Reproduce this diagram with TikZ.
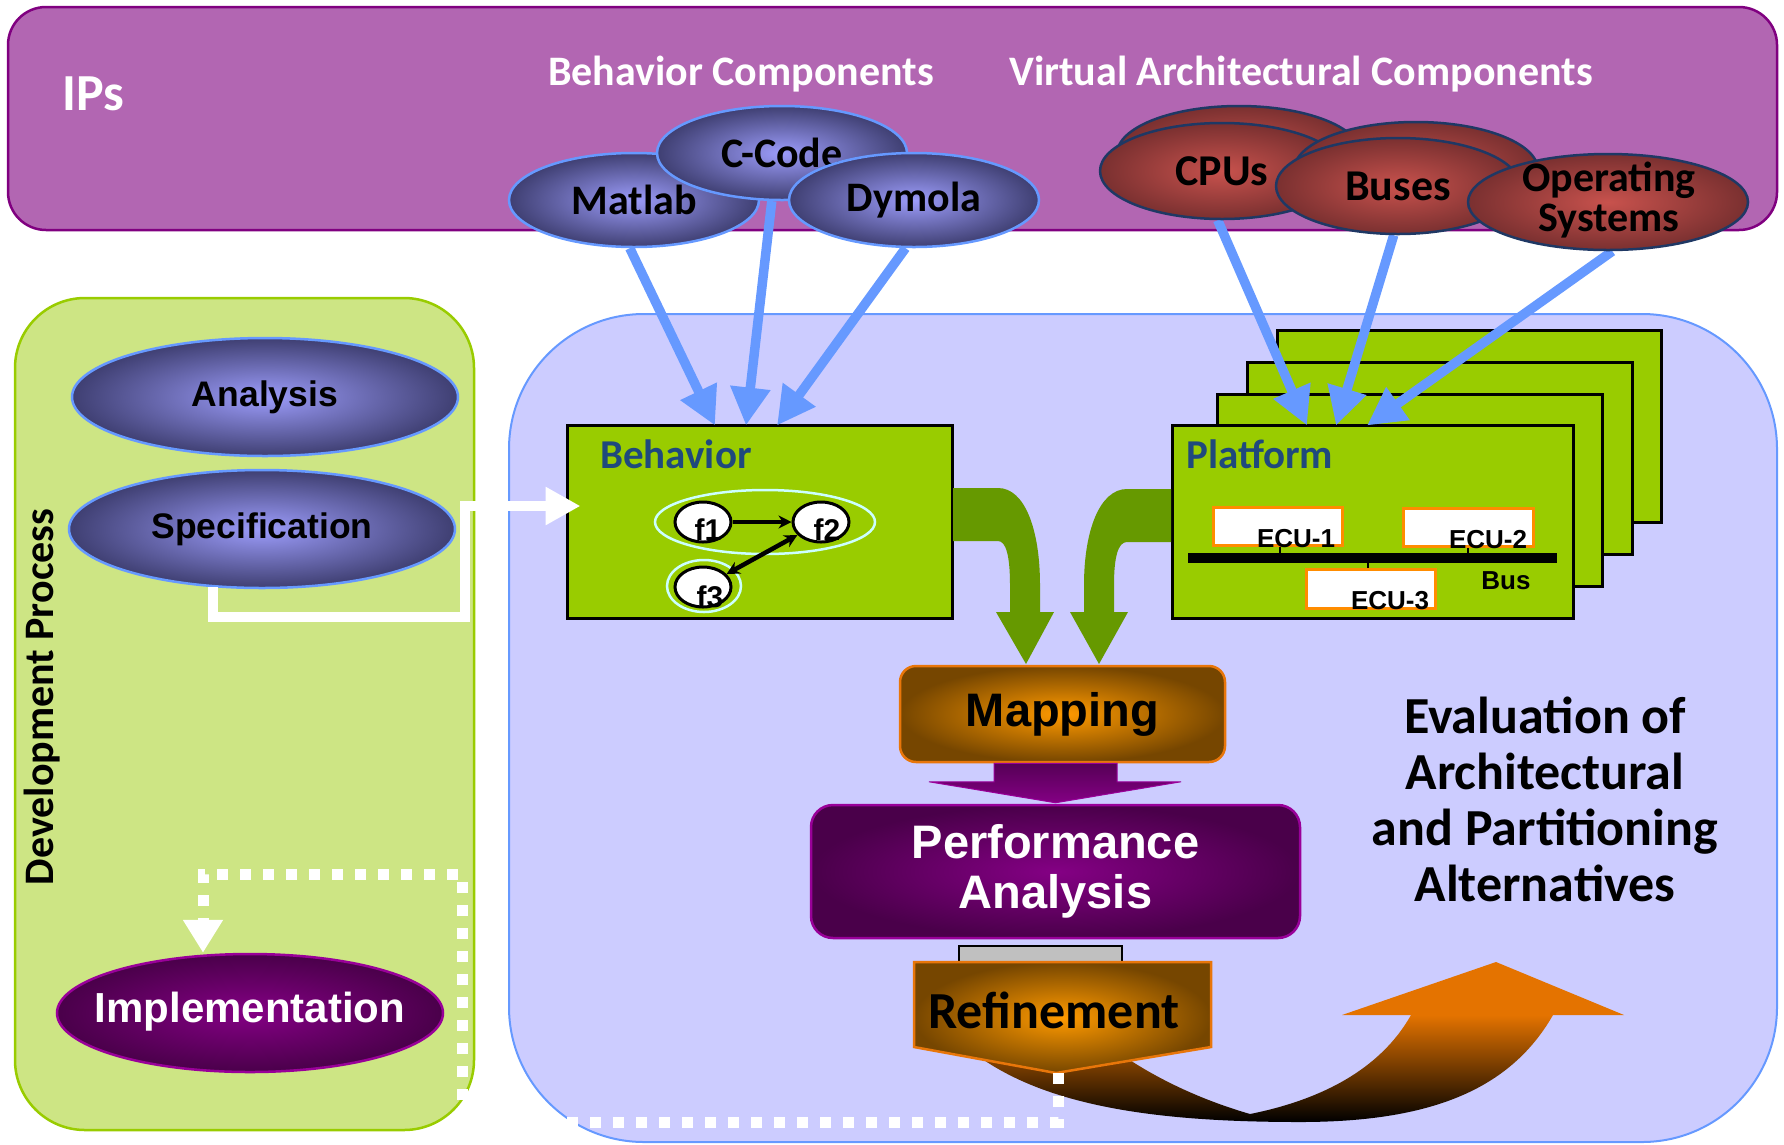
\documentclass[tikz,border=0pt]{standalone}
\usepackage{fontspec}
\setmainfont{Carlito}
\newfontfamily\arialfont{Liberation Sans}
\usetikzlibrary{shapes.geometric,arrows.meta,calc}
\pgfdeclarelayer{panels}
\pgfdeclarelayer{links}
\pgfsetlayers{panels,links,main}
\newcommand\setsz[2]{\fontsize{#1}{#2}\selectfont}

\definecolor{ipfill}{HTML}{B266B2}
\definecolor{ipline}{HTML}{800080}
\definecolor{lav}{HTML}{CCCCFF}
\definecolor{lavline}{HTML}{6699FF}
\definecolor{devfill}{HTML}{CDE584}
\definecolor{devline}{HTML}{99CC00}
\definecolor{boxgreen}{HTML}{99CC00}
\definecolor{darkgreen}{HTML}{669900}
\definecolor{skyblue}{HTML}{6699FF}
\definecolor{titleblue}{HTML}{1F497D}
\definecolor{bluein}{HTML}{9C9CFA}
\definecolor{blueout}{HTML}{3F3F72}
\definecolor{redin}{HTML}{C8524D}
\definecolor{redout}{HTML}{7A3030}
\definecolor{redline}{HTML}{1F3864}
\definecolor{purin}{HTML}{840084}
\definecolor{purout}{HTML}{4A004A}
\definecolor{purtop}{HTML}{560056}
\definecolor{purline}{HTML}{990099}
\definecolor{orin}{HTML}{FF9A00}
\definecolor{orout}{HTML}{764600}
\definecolor{orline}{HTML}{E8760A}
\definecolor{arcorange}{HTML}{E47300}
\definecolor{eculine}{HTML}{FF8C00}
\definecolor{groupline}{HTML}{CCFFFF}
\definecolor{bargray}{HTML}{C0C0C0}

\begin{document}
\begin{tikzpicture}[x=1pt,y=-1pt,
  platbox/.style={rectangle, fill=boxgreen, draw=black, line width=3pt, inner sep=0pt},
  bluecomp/.style={ellipse, shade, inner color=bluein, outer color=blueout, draw=skyblue,
    line width=2.5pt, minimum width=250pt, minimum height=94pt, inner sep=0pt,
    font=\bfseries\setsz{42}{44}},
  redcomp/.style={ellipse, shade, inner color=redin, outer color=redout, draw=redline,
    line width=2.5pt, minimum width=244pt, minimum height=96pt, inner sep=0pt,
    font=\bfseries\setsz{44}{40}, align=center},
  stage/.style={ellipse, shade, line width=2.5pt, minimum width=386pt, minimum height=118pt,
    inner sep=0pt, font=\arialfont\bfseries\setsz{35.5}{38}},
  bluestage/.style={stage, inner color=bluein, outer color=blueout, draw=skyblue},
  purplestage/.style={stage, inner color=purin, outer color=purout, draw=purline},
  skylink/.style={draw=skyblue, line width=9.5pt, -{Triangle[length=38pt,width=38pt]}},
  whitelink/.style={draw=white, line width=10pt, -{Triangle[length=35pt,width=36pt]}},
  dotlink/.style={draw=white, line width=11pt, dash pattern=on 11pt off 12pt,
    -{Triangle[length=33pt,width=38pt]}},
  fnode/.style={ellipse, draw=black, fill=white, line width=3pt, minimum width=56pt,
    minimum height=40pt, inner sep=0pt},
  flabel/.style={font=\arialfont\bfseries\setsz{30}{32}, anchor=base, inner sep=0pt},
  grouping/.style={ellipse, draw=groupline, line width=2.5pt, inner sep=0pt},
  ecubox/.style={rectangle, fill=white, draw=eculine, line width=3pt, inner sep=0pt},
  eculabel/.style={font=\arialfont\bfseries\setsz{26}{28}, anchor=base, inner sep=0pt},
  boxtitle/.style={font=\bfseries\setsz{41}{44}, text=titleblue, anchor=base west, inner sep=0pt},
  headline/.style={font=\bfseries\setsz{42}{44}, text=white, anchor=base, inner sep=0pt}]

\useasboundingbox (0,0) rectangle (1784,1144);

% ---------- panels and block frames ----------
\begin{pgfonlayer}{panels}
  \draw[ipline, fill=ipfill, line width=2.5pt, rounded corners=38pt] (8,7) rectangle (1777,230);
  \draw[lavline, fill=lav, line width=2pt, rounded corners=135pt] (509,314) rectangle (1777,1142);
  \draw[devline, fill=devfill, line width=2.5pt, rounded corners=70pt] (15,298) rectangle (474,1130);

  \node[platbox, minimum width=384pt, minimum height=192pt] (plat3) at (1469,426) {};
  \node[platbox, minimum width=385pt, minimum height=192pt] (plat2) at (1439.5,458) {};
  \node[platbox, minimum width=385pt, minimum height=192pt] (plat1) at (1409.5,490) {};
  \node[platbox, minimum width=401pt, minimum height=193pt] (platform) at (1372.5,521.5) {};
  \node[platbox, minimum width=385pt, minimum height=193pt] (behavior) at (759.5,521.5) {};
\end{pgfonlayer}

% ---------- IP components ----------
\node[bluecomp] (matlab) at (634,200) {Matlab};
\node[bluecomp] (ccode) at (782,153) {C-Code};
\node[bluecomp] (dymola) at (914,200) {Dymola};

\node[redcomp] (cpuback) at (1239,154) {};
\node[redcomp] (cpus) at (1222,171) {CPUs};
\node[redcomp] (busback) at (1416,170) {};
\node[redcomp] (buses) at (1398,186) {Buses};
\node[redcomp, minimum width=280pt] (os) at (1608,202) {};
\node[font=\bfseries\setsz{42}{40}, align=center, inner sep=0pt] (oslbl) at (1609,200) {Operating\\Systems};

\node[font=\bfseries\setsz{52}{54}, text=white, anchor=base, inner sep=0pt] (ips) at (93,110) {IPs};
\node[headline] (bclabel) at (741,85) {Behavior Components};
\node[headline] (vaclabel) at (1301,85) {Virtual Architectural Components};

% ---------- links from the IP library ----------
\begin{pgfonlayer}{links}
  \draw[skylink] (matlab.265) -- ($(behavior.north)+(-44.5,2)$);
  \draw[skylink] (ccode.258) -- ($(behavior.north)+(-13.5,2)$);
  \draw[skylink] (dymola.260) -- ($(behavior.north)+(17.5,2)$);
  \draw[skylink] (cpus.265) -- ($(platform.north)+(-65.5,2)$);
  \draw[skylink] (buses.265) -- ($(platform.north)+(-36.5,2)$);
  \draw[skylink] (os.275) -- ($(platform.north)+(-5.5,2)$);
\end{pgfonlayer}

% ---------- development process ----------
\node[rotate=90, font=\bfseries\setsz{42}{44}, inner sep=0pt] (devlabel) at (42,697) {Development Process};
\node[bluestage] (analysis) at (265,397) {Analysis};
\node[bluestage] (spec) at (262,529) {Specification};
\node[purplestage] (impl) at (250,1013) {};
\node[text=white, font=\arialfont\bfseries\setsz{42}{44}, inner sep=0pt] (impllbl) at (250,1012) {Implementation};

\draw[whitelink] (spec.230) |- (465,617) |- ($(behavior.west)+(15,-15.5)$);

% ---------- behavior block ----------
\node[boxtitle] (behtitle) at (600,468) {Behavior};
\node[grouping, minimum width=220pt, minimum height=64pt] (grp12) at (765,522) {};
\node[grouping, minimum width=74pt, minimum height=52pt] (grp3) at (704,586) {};
\node[fnode] (f1) at (703,522) {};
\node[fnode] (f2) at (821,522) {};
\node[fnode] (f3) at (703,587) {};
\draw[line width=4.5pt, -{Stealth[length=13pt,width=13pt]}] (f1) -- (f2);
\draw[line width=4.5pt, {Stealth[length=13pt,width=13pt]}-{Stealth[length=13pt,width=13pt]}] (f3) -- (f2);
\node[flabel] (f1lbl) at (708,540) {f1};
\node[flabel] (f2lbl) at (827,540) {f2};
\node[flabel] (f3lbl) at (710,607) {f3};

% ---------- platform block ----------
\node[boxtitle] (plattitle) at (1186,468) {Platform};
\node[ecubox, minimum width=129pt, minimum height=38pt] (ecu1) at (1277.5,526) {};
\node[ecubox, minimum width=130pt, minimum height=38pt] (ecu2) at (1468,527) {};
\node[ecubox, minimum width=129pt, minimum height=39pt] (ecu3) at (1370.5,588.5) {};
\coordinate (busW) at (1188,558);
\coordinate (busE) at (1557,558);
\draw[line width=10pt] (busW) -- (busE);
\draw[line width=2pt] ($(ecu1.south)+(2.5,0)$) -- ($(ecu1.south)+(2.5,8)$);
\draw[line width=2pt] (ecu2.south) -- ++(0,7);
\draw[line width=2pt] ($(ecu3.north)+(-2.5,0)$) -- ++(0,-6);
\node[eculabel] (ecu1lbl) at (1296,547) {ECU-1};
\node[eculabel] (ecu2lbl) at (1488,548) {ECU-2};
\node[eculabel] (ecu3lbl) at (1390,609) {ECU-3};
\node[eculabel] (buslbl) at (1506,589) {Bus};

% ---------- bent arrows into the mapping ----------
\fill[darkgreen] (953,488) -- (998,488) .. controls (1025,488) and (1040,530) .. (1040,585)
  -- (1040,612) -- (1054,612) -- (1026,664) -- (996,612) -- (1010,612) -- (1010,585)
  .. controls (1010,556) and (1006,541) .. (998,541) -- (953,541) -- cycle;
\fill[darkgreen] (1171,489) -- (1127,489) .. controls (1100,489) and (1084,530) .. (1084,585)
  -- (1084,612) -- (1070,612) -- (1099,664) -- (1128,612) -- (1114,612) -- (1114,585)
  .. controls (1114,557) and (1118,542) .. (1127,542) -- (1171,542) -- cycle;

% ---------- mapping, analysis, refinement ----------
\node[shade, inner color=orin, outer color=orout, draw=orline, line width=2.5pt,
  rounded corners=16pt, minimum width=325pt, minimum height=96pt, inner sep=0pt,
  font=\arialfont\bfseries\setsz{47}{50}] (mapping) at (1062.5,714) {Mapping};

\node[shade, inner color=purin, outer color=purout, draw=purline, line width=2.5pt,
  rounded corners=22pt, minimum width=489pt, minimum height=133pt, inner sep=0pt,
  text=white, align=center, font=\arialfont\bfseries\setsz{47}{50}] (perf) at (1055.5,871.5)
  {Performance\\Analysis};

\shadedraw[top color=purtop, bottom color=purin, draw=purline, line width=1pt]
  ($(mapping.south)+(-68.5,0)$) -- ($(mapping.south)+(54.5,0)$) -- ($(perf.north)+(61.5,-22)$)
  -- ($(perf.north)+(125.5,-22)$) -- ($(perf.north)+(0,-1)$) -- ($(perf.north)+(-126.5,-22)$)
  -- ($(perf.north)+(-61.5,-22)$) -- cycle;

% curved feedback arrow
\shade[top color=arcorange, bottom color=black]
  (970,1050) .. controls (1040,1105) and (1150,1122) .. (1300,1122)
  .. controls (1430,1122) and (1510,1090) .. (1553,1015)
  -- (1411,1015) .. controls (1380,1070) and (1320,1100) .. (1250,1114)
  .. controls (1195,1098) and (1150,1075) .. (1115,1050) -- cycle;
\fill[arcorange] (1342,1015) -- (1496,962) -- (1624,1015) -- cycle;

\node[draw=black, fill=bargray, line width=2pt, minimum width=163pt, minimum height=16pt,
  inner sep=0pt] (gap) at (1040.5,954) {};
\shadedraw[inner color=orin, outer color=orout, draw=orline, line width=2.5pt]
  (914,962) -- (1211,962) -- (1211,1047) -- (1056,1073) -- (914,1047) -- cycle;
\node[font=\bfseries\setsz{52}{54}, anchor=base, inner sep=0pt] (refine) at (1054,1028) {Refinement};
\coordinate (reftip) at (1058,1073);
\coordinate (backcorner) at (203,874);

\draw[dotlink] (reftip) -- (1058,1122) -- (462,1122) -- (462,874) -- (backcorner) -- (impl.north -| backcorner);

% ---------- evaluation note ----------
\node[font=\bfseries\setsz{52}{56}, align=center, anchor=north, inner sep=0pt] (evalnote) at (1545,697)
  {Evaluation of\\Architectural\\and Partitioning\\Alternatives};

\end{tikzpicture}
\end{document}
